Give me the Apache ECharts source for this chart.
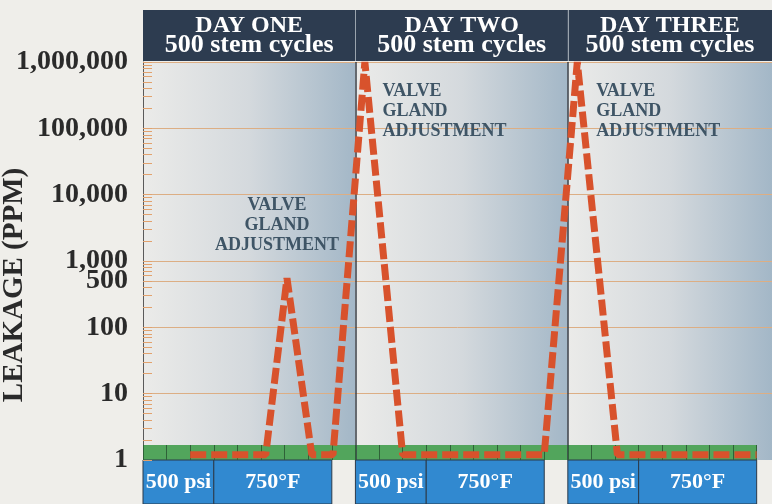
<!DOCTYPE html>
<html>
<head>
<meta charset="utf-8">
<script src="https://cdn.jsdelivr.net/npm/echarts@6/dist/echarts.min.js"></script>
<style>
html, body { margin: 0; padding: 0; background: #efeeea; }
#chart { width: 772px; height: 504px; }
</style>
</head>
<body>
<div id="chart"></div>
<script>
// leakage readings (x = test step, y = ppm)
const leakX = [2, 5.2, 6.1, 7.15, 8.05, 9.4, 11.0, 17.0, 18.4, 20.1, 26];
const leakY = [1.2, 1.2, 550, 1.2, 1.2, 1000000, 1.2, 1.2, 1000000, 1.2, 1.2];

const dayNames = ['DAY ONE', 'DAY TWO', 'DAY THREE'];
const dayStart = [0, 9, 18];
const dayEnd = [9, 18, 26.65];
const cyclesText = '500 stem cycles';

const condNames = ['500 psi', '750°F', '500 psi', '750°F', '500 psi', '750°F'];
const condStart = [0, 3, 9, 12, 18, 21];
const condEnd = [3, 8, 12, 17, 21, 26];

const noteText = 'VALVE\nGLAND\nADJUSTMENT';
const noteX = [5.68, 10.15, 19.2];
const noteY = [3500, 178000, 178000];
const noteAlign = ['center', 'left', 'left'];

const yLabels = [1, 10, 100, 500, 1000, 10000, 100000, 1000000];
const decades = [1, 10, 100, 1000, 10000, 100000];
const minorSteps = [1, 2, 3, 4, 5, 6, 7, 8, 9];
const yTicks = decades.flatMap(d => minorSteps.map(m => d * m)).concat([1000000]);
const xTicks = [0, 1, 2, 3, 4, 5, 6, 7, 8, 9, 10, 11, 12, 13, 14, 15, 16, 17, 18, 19, 20, 21, 22, 23, 24, 25, 26];

const serif = "'Liberation Serif', 'DejaVu Serif', serif";
const xMax = 26.65;
const gridColor = '#dcae84';

const panelFill = {
    type: 'linear', x: 0, y: 0, x2: 1, y2: 0,
    colorStops: [
        { offset: 0, color: '#ebebe9' },
        { offset: 0.5, color: '#d4d9dd' },
        { offset: 1, color: '#a3b7c7' }
    ]
};

const chart = echarts.init(document.getElementById('chart'));

const option = {
    backgroundColor: '#efeeea',
    animation: false,
    grid: [
        { left: 143, right: 0, top: 62, bottom: 44, outerBoundsMode: 'none' },
        { left: 143, right: 0, top: 10, height: 51, outerBoundsMode: 'none' },
        { left: 143, right: 0, top: 460, bottom: 0, outerBoundsMode: 'none' }
    ],
    xAxis: [
        {
            gridIndex: 0, type: 'value', min: 0, max: xMax, z: 3,
            axisLine: { show: false },
            axisLabel: { show: false },
            splitLine: { show: false },
            axisTick: { show: true, inside: true, length: 15, customValues: xTicks,
                lineStyle: { color: '#2f6138', width: 1 } }
        },
        { gridIndex: 1, type: 'value', min: 0, max: xMax, show: false },
        { gridIndex: 2, type: 'value', min: 0, max: xMax, show: false }
    ],
    yAxis: [
        {
            gridIndex: 0, type: 'log', logBase: 10, min: 1, max: 1000000, z: 3,
            name: 'LEAKAGE (PPM)',
            nameLocation: 'middle',
            nameGap: 114,
            nameMoveOverlap: false,
            nameTextStyle: { fontFamily: serif, fontWeight: 'bold', fontSize: 29, color: '#2a2a2a',
                padding: [0, 48, 0, 0] },
            axisLine: { show: true, lineStyle: { color: '#5a5a5a', width: 1 } },
            axisTick: { show: true, inside: true, length: 9, customValues: yTicks,
                lineStyle: { color: '#e2a26e', width: 1 } },
            axisLabel: {
                customValues: yLabels,
                margin: 15,
                fontFamily: serif, fontWeight: 'bold', fontSize: 28, color: '#2a2a2a',
                formatter: v => Number(v).toLocaleString('en-US')
            },
            splitLine: { show: false }
        },
        { gridIndex: 1, type: 'value', min: 0, max: 1, show: false },
        { gridIndex: 2, type: 'value', min: 0, max: 1, show: false }
    ],
    series: [
        {
            name: 'panels', type: 'line', xAxisIndex: 0, yAxisIndex: 0, data: [], silent: true,
            markArea: {
                silent: true,
                label: { show: false },
                data: dayStart.map((s, i) => [
                    { xAxis: s, itemStyle: { color: panelFill, opacity: 1 } },
                    { xAxis: dayEnd[i] }
                ]).concat([[
                    { xAxis: 0, yAxis: 1, itemStyle: { color: '#52a55c', opacity: 1 } },
                    { xAxis: 26, yAxis: 1.68 }
                ]])
            },
            markLine: {
                silent: true, z: 3,
                symbol: ['none', 'none'],
                label: { show: false },
                data: yLabels.slice(1).map(v => ({
                    yAxis: v, lineStyle: { color: gridColor, width: 1, type: 'solid' }
                })).concat([
                    { xAxis: dayStart[1], lineStyle: { color: '#3a3f47', width: 1.5, type: 'solid' } },
                    { xAxis: dayStart[2], lineStyle: { color: '#3a3f47', width: 1.5, type: 'solid' } }
                ])
            }
        },
        {
            name: 'Leakage', type: 'line', xAxisIndex: 0, yAxisIndex: 0, z: 5,
            showSymbol: false,
            data: leakX.map((x, i) => [x, leakY[i]]),
            lineStyle: { color: '#d8522c', width: 7, type: [16, 5] },
            markPoint: {
                silent: true,
                symbolSize: 0,
                data: noteX.map((x, i) => ({
                    coord: [x, noteY[i]],
                    label: {
                        show: true, position: 'inside', formatter: noteText,
                        align: noteAlign[i], verticalAlign: 'middle',
                        fontFamily: serif, fontWeight: 'bold', fontSize: 18, lineHeight: 20,
                        color: '#3f5566'
                    }
                }))
            }
        },
        {
            name: 'days', type: 'line', xAxisIndex: 1, yAxisIndex: 1, data: [], silent: true,
            markArea: {
                silent: true,
                data: dayStart.map((s, i) => [
                    {
                        xAxis: s, name: '{a|' + dayNames[i] + '}\n{b|' + cyclesText + '}',
                        itemStyle: { color: '#2d3c50', opacity: 1 }
                    },
                    { xAxis: dayEnd[i] }
                ]),
                label: {
                    show: true, position: 'inside', color: '#ffffff',
                    rich: {
                        a: { fontFamily: serif, fontWeight: 'bold', fontSize: 24, lineHeight: 19, color: '#ffffff' },
                        b: { fontFamily: serif, fontWeight: 'bold', fontSize: 26, lineHeight: 19, color: '#ffffff' }
                    }
                }
            },
            markLine: {
                silent: true,
                symbol: ['none', 'none'],
                label: { show: false },
                lineStyle: { color: '#9aa4ae', width: 1, type: 'solid' },
                data: [{ xAxis: dayStart[1] }, { xAxis: dayStart[2] }]
            }
        },
        {
            name: 'conditions', type: 'line', xAxisIndex: 2, yAxisIndex: 2, data: [], silent: true,
            markArea: {
                silent: true,
                itemStyle: { color: '#3189d0', opacity: 1, borderColor: '#2b3a4a', borderWidth: 1 },
                label: {
                    show: true, position: 'inside', color: '#ffffff',
                    fontFamily: serif, fontWeight: 'bold', fontSize: 22
                },
                data: condStart.map((s, i) => [
                    { xAxis: s, name: condNames[i] },
                    { xAxis: condEnd[i] }
                ])
            }
        }
    ]
};

chart.setOption(option);
window.addEventListener('resize', () => chart.resize());
</script>
</body>
</html>
